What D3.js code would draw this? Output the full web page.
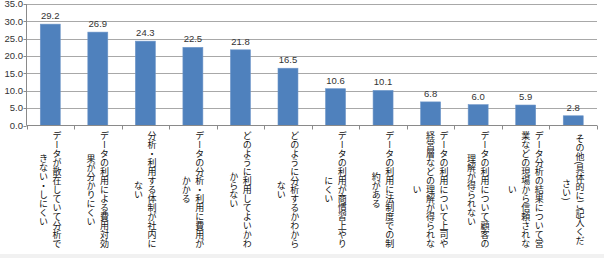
<!DOCTYPE html>
<html>
<head>
<meta charset="utf-8">
<script src="https://cdn.jsdelivr.net/npm/d3@7"></script>
<style>
  html, body { margin: 0; padding: 0; background: #fff; }
  svg { display: block; }
  .lbl { font-family: "Noto Sans CJK JP", sans-serif; font-size: 9px; fill: #111; }
  .num { font-family: "Liberation Sans", Arial, sans-serif; font-size: 9.5px; fill: #333; }
</style>
</head>
<body>
<svg id="chart"></svg>
<script>
// categories: each entry is the list of vertical lines, rightmost first
const categories = [
  ["データが散在していて分析で", "きない・しにくい"],
  ["データの利用による費用対効", "果が分かりにくい"],
  ["分析・利用する体制が社内に", "ない"],
  ["データの分析・利用に費用が", "かかる"],
  ["どのように利用してよいかわ", "からない"],
  ["どのように分析するかわから", "ない"],
  ["データの利用が商慣習上やり", "にくい"],
  ["データの利用に法制度での制", "約がある"],
  ["データの利用について上司や", "経営層などの理解が得られな", "い"],
  ["データの利用について顧客の", "理解が得られない"],
  ["データ分析の結果について営", "業などの現場から信頼されな", "い"],
  ["その他(具体的にご記入くだ", "さい)"]
];
const values = [29.2, 26.9, 24.3, 22.5, 21.8, 16.5, 10.6, 10.1, 6.8, 6.0, 5.9, 2.8];
const yTicks = [0, 5, 10, 15, 20, 25, 30, 35];

const width = 604, height = 258;
const plotLeft = 26.5, plotRight = 597, plotTop = 4, plotBottom = 125.5;

const svg = d3.select("#chart").attr("width", width).attr("height", height);

// light band along the bottom edge
svg.append("rect").attr("x", 0).attr("y", 254).attr("width", width).attr("height", 4).attr("fill", "#f1f1f1");

const x = d3.scaleBand().domain(d3.range(categories.length)).range([plotLeft, plotRight]).paddingInner(0.58).paddingOuter(0.29);
const y = d3.scaleLinear().domain([0, 35]).range([plotBottom, plotTop]);

// gridlines
svg.append("g")
  .selectAll("line")
  .data(yTicks.slice(1))
  .join("line")
  .attr("x1", plotLeft).attr("x2", plotRight)
  .attr("y1", d => Math.round(y(d)) + 0.5).attr("y2", d => Math.round(y(d)) + 0.5)
  .attr("stroke", "#a8a8a8");

// y axis labels + ticks
const yAxis = svg.append("g");
yAxis.selectAll("text")
  .data(yTicks)
  .join("text")
  .attr("class", "num")
  .attr("x", 23).attr("y", d => y(d))
  .attr("dy", "0.35em")
  .attr("text-anchor", "end")
  .text(d => d.toFixed(1));
yAxis.selectAll("line")
  .data(yTicks)
  .join("line")
  .attr("x1", plotLeft - 3).attr("x2", plotLeft)
  .attr("y1", d => Math.round(y(d)) + 0.5).attr("y2", d => Math.round(y(d)) + 0.5)
  .attr("stroke", "#8a8a8a");
yAxis.append("line")
  .attr("x1", plotLeft).attr("x2", plotLeft).attr("y1", plotTop).attr("y2", plotBottom)
  .attr("stroke", "#8a8a8a");

// bars
svg.append("g")
  .selectAll("rect")
  .data(values)
  .join("rect")
  .attr("x", (d, i) => x(i))
  .attr("width", x.bandwidth())
  .attr("y", d => y(d))
  .attr("height", d => y(0) - y(d))
  .attr("fill", "#4f81bd")
  .attr("stroke", "#6d95c8")
  .attr("stroke-width", 0.6);

// value labels
svg.append("g")
  .selectAll("text")
  .data(values)
  .join("text")
  .attr("class", "num")
  .attr("x", (d, i) => x(i) + x.bandwidth() / 2)
  .attr("y", d => y(d) - 5)
  .attr("text-anchor", "middle")
  .text(d => d.toFixed(1));

// x axis line and ticks at category boundaries
const step = (plotRight - plotLeft) / categories.length;
svg.append("line")
  .attr("x1", plotLeft).attr("x2", plotRight).attr("y1", plotBottom).attr("y2", plotBottom)
  .attr("stroke", "#8a8a8a");
svg.append("g")
  .selectAll("line")
  .data(d3.range(categories.length + 1))
  .join("line")
  .attr("x1", i => Math.round(plotLeft + i * step) + 0.5).attr("x2", i => Math.round(plotLeft + i * step) + 0.5)
  .attr("y1", plotBottom).attr("y2", plotBottom + 4)
  .attr("stroke", "#8a8a8a");

// vertical category labels
const lh = 13.5;
const labels = svg.append("g");
categories.forEach((lines, i) => {
  const cx = x(i) + x.bandwidth() / 2;
  lines.forEach((t, j) => {
    labels.append("text")
      .attr("class", "lbl")
      .attr("x", cx + ((lines.length - 1) / 2 - j) * lh)
      .attr("y", 190)
      .attr("text-anchor", "middle")
      .style("writing-mode", "vertical-rl")
      .text(t);
  });
});
</script>
</body>
</html>
